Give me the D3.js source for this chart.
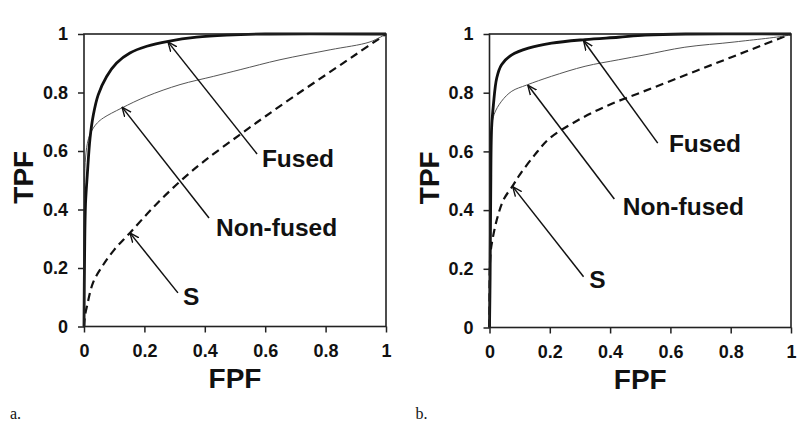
<!DOCTYPE html>
<html>
<head>
<meta charset="utf-8">
<script src="https://cdn.jsdelivr.net/npm/d3@7"></script>
<style>
body { margin: 0; background: #fff; }
text { font-family: "Liberation Sans", Arial, sans-serif; font-weight: bold; fill: #111; }
</style>
</head>
<body>
<div id="chart"></div>
<script>
// tick values shared by both panels
let tickValues = [0, 0.2, 0.4, 0.6, 0.8, 1];
let tickLabels = ["0", "0.2", "0.4", "0.6", "0.8", "1"];

// panel a: [FPF, TPF]
let fusedA = [[0,0],[0.002,0.25],[0.005,0.42],[0.011,0.52],[0.02,0.644],[0.031,0.724],[0.047,0.792],
  [0.075,0.855],[0.108,0.901],[0.152,0.935],[0.208,0.958],[0.279,0.975],[0.373,0.989],[0.472,0.996],[0.6,1],[1,1]];
let nonFusedA = [[0,0],[0.001,0.35],[0.004,0.56],[0.011,0.625],[0.02,0.657],[0.031,0.679],[0.045,0.697],
  [0.064,0.713],[0.125,0.747],[0.208,0.787],[0.318,0.827],[0.428,0.855],[0.517,0.878],[0.649,0.912],
  [0.815,0.946],[0.947,0.973],[1,1]];
let sA = [[0,0],[0.003,0.035],[0.01,0.07],[0.03,0.15],[0.06,0.205],[0.1,0.262],[0.152,0.32],[0.23,0.408],
  [0.318,0.496],[0.4,0.567],[0.511,0.652],[0.6,0.718],[0.7,0.79],[0.8,0.86],[0.9,0.93],[1,1]];

// panel b
let fusedB = [[0,0],[0.002,0.17],[0.004,0.45],[0.007,0.68],[0.013,0.759],[0.024,0.85],[0.04,0.895],
  [0.074,0.929],[0.129,0.952],[0.206,0.969],[0.317,0.981],[0.427,0.989],[0.516,0.996],[0.65,1],[1,1]];
let nonFusedB = [[0,0],[0.002,0.4],[0.005,0.66],[0.015,0.725],[0.04,0.771],[0.074,0.805],[0.123,0.826],
  [0.206,0.856],[0.317,0.89],[0.427,0.912],[0.516,0.929],[0.648,0.955],[0.814,0.973],[0.991,0.996],[1,1]];
let sB = [[0,0],[0.001,0.2],[0.004,0.26],[0.01,0.3],[0.024,0.366],[0.046,0.434],[0.079,0.486],[0.1,0.52],
  [0.15,0.588],[0.2,0.645],[0.3,0.71],[0.4,0.76],[0.5,0.8],[0.6,0.84],[0.7,0.88],[0.8,0.92],
  [0.9,0.96],[1,1]];

// annotations: label, label anchor (left/baseline), arrow tail, arrow head - data units
let notesA = [
  {name: "Fused",     lx: 0.589, ly: 0.545, tx: 0.573, ty: 0.590, hx: 0.278, hy: 0.973},
  {name: "Non-fused", lx: 0.437, ly: 0.309, tx: 0.414, ty: 0.371, hx: 0.126, hy: 0.750},
  {name: "S",         lx: 0.328, ly: 0.074, tx: 0.311, ty: 0.115, hx: 0.152, hy: 0.320}
];
let notesB = [
  {name: "Fused",     lx: 0.595, ly: 0.599, tx: 0.558, ty: 0.628, hx: 0.312, hy: 0.977},
  {name: "Non-fused", lx: 0.442, ly: 0.383, tx: 0.414, ty: 0.438, hx: 0.127, hy: 0.826},
  {name: "S",         lx: 0.331, ly: 0.134, tx: 0.312, ty: 0.173, hx: 0.077, hy: 0.480}
];

let svg = d3.select('#chart').append('svg')
    .attr('width', 802)
    .attr('height', 421)
    .style('background', 'white');

svg.append('defs').append('marker')
    .attr('id', 'head')
    .attr('viewBox', '0 0 10 10')
    .attr('refX', 9.5).attr('refY', 5)
    .attr('markerWidth', 10).attr('markerHeight', 10)
    .attr('markerUnits', 'userSpaceOnUse')
    .attr('orient', 'auto')
  .append('path')
    .attr('d', 'M0,1 L9.5,5 L0,9')
    .attr('fill', 'none')
    .attr('stroke', '#111')
    .attr('stroke-width', 1.4);

function drawPanel(box, fused, nonFused, s, notes, letter){
  let x = d3.scaleLinear().domain([0, 1]).range([box.left, box.right]);
  let y = d3.scaleLinear().domain([0, 1]).range([box.bottom, box.top]);
  let g = svg.append('g');

  let line = d3.line()
      .x(d => x(d[0]))
      .y(d => y(d[1]))
      .curve(d3.curveCatmullRom.alpha(0.5));

  g.append('path').attr('d', line(s))
      .attr('fill', 'none').attr('stroke', '#111')
      .attr('stroke-width', 2.2).attr('stroke-dasharray', '8,5');
  g.append('path').attr('d', line(nonFused))
      .attr('fill', 'none').attr('stroke', '#555').attr('stroke-width', 1);
  g.append('path').attr('d', line(fused))
      .attr('fill', 'none').attr('stroke', '#111').attr('stroke-width', 2.8);

  // frame
  g.append('rect')
      .attr('x', x(0)).attr('y', y(1))
      .attr('width', x(1) - x(0)).attr('height', y(0) - y(1))
      .attr('fill', 'none').attr('stroke', '#222').attr('stroke-width', 1.6);

  let xAxis = g.append('g')
      .attr('transform', 'translate(0,' + y(0) + ')')
      .call(d3.axisBottom(x).tickValues(tickValues).tickFormat((d, i) => tickLabels[i])
            .tickSize(6).tickPadding(12));
  let yAxis = g.append('g')
      .attr('transform', 'translate(' + x(0) + ',0)')
      .call(d3.axisLeft(y).tickValues(tickValues).tickFormat((d, i) => tickLabels[i])
            .tickSize(6).tickPadding(10));
  [xAxis, yAxis].forEach(a => {
    a.select('.domain').remove();
    a.selectAll('line').attr('stroke', '#222').attr('stroke-width', 1.5);
    a.selectAll('text').style('font-size', '18px').attr('fill', '#111');
  });

  g.append('text')
      .attr('x', (x(0) + x(1)) / 2).attr('y', box.bottom + 61)
      .attr('text-anchor', 'middle')
      .style('font-size', '28px')
      .text('FPF');
  g.append('text')
      .attr('transform', 'translate(' + (box.left - 51) + ',' + ((y(0) + y(1)) / 2 - 3) + ') rotate(-90)')
      .attr('text-anchor', 'middle')
      .style('font-size', '28px')
      .text('TPF');

  // arrows and labels
  g.selectAll('line.arrow')
    .data(notes)
    .join('line')
      .attr('class', 'arrow')
      .attr('x1', d => x(d.tx)).attr('y1', d => y(d.ty))
      .attr('x2', d => x(d.hx)).attr('y2', d => y(d.hy))
      .attr('stroke', '#111').attr('stroke-width', 1.5)
      .attr('marker-end', 'url(#head)');
  g.selectAll('text.note')
    .data(notes)
    .join('text')
      .attr('class', 'note')
      .attr('x', d => x(d.lx)).attr('y', d => y(d.ly))
      .style('font-size', '24.5px')
      .text(d => d.name);

  g.append('text')
      .attr('x', box.left - 74).attr('y', 419)
      .style('font-family', '"Liberation Serif", "Times New Roman", serif')
      .style('font-weight', 'normal')
      .style('font-size', '16px')
      .text(letter);
}

drawPanel({left: 84, right: 386, top: 34, bottom: 326.5}, fusedA, nonFusedA, sA, notesA, 'a.');
drawPanel({left: 489.5, right: 791, top: 34, bottom: 327.5}, fusedB, nonFusedB, sB, notesB, 'b.');
</script>
</body>
</html>
